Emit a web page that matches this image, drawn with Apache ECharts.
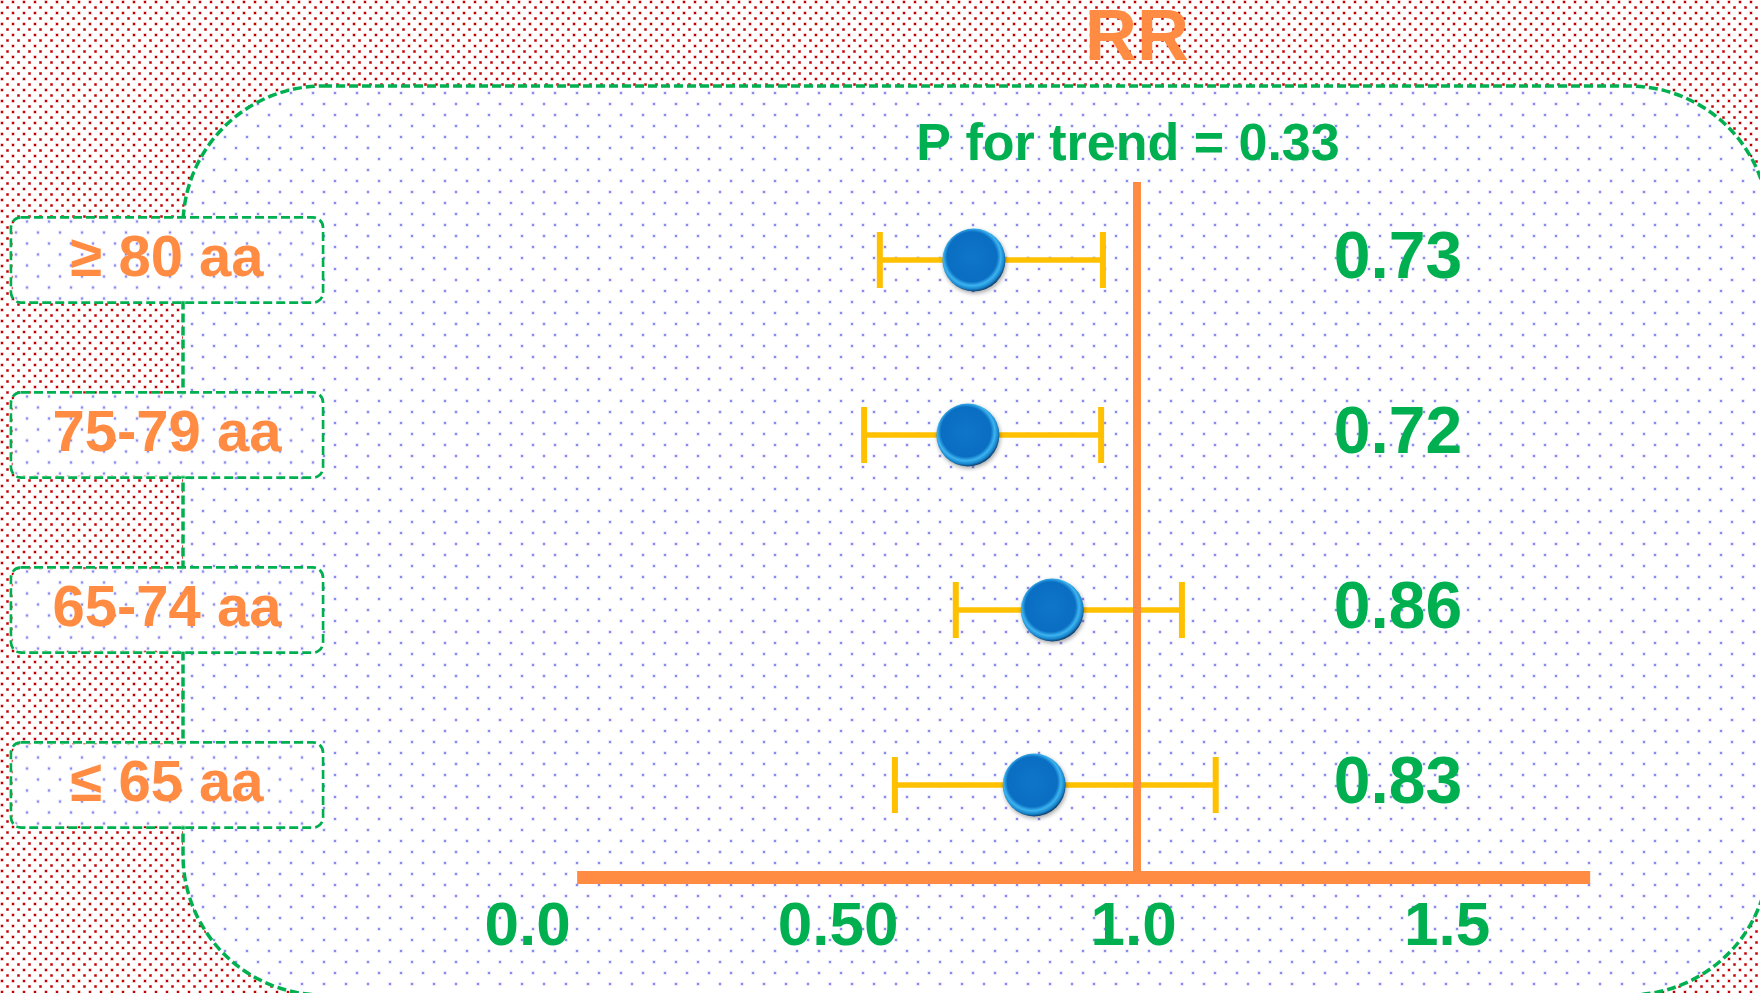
<!DOCTYPE html>
<html>
<head>
<meta charset="utf-8">
<script src="https://cdn.jsdelivr.net/npm/echarts@6/dist/echarts.min.js"></script>
<style>
  html, body { margin: 0; padding: 0; background: #fff; }
  #chart { width: 1760px; height: 993px; }
</style>
</head>
<body>
<div id="chart"></div>
<script>
// Data
const rowLabels = ['≥ 80 aa', '75-79 aa', '65-74 aa', '≤ 65 aa'];
const rr = [0.73, 0.72, 0.86, 0.83];
const ciLow = [0.574, 0.548, 0.700, 0.599];
const ciHigh = [0.944, 0.941, 1.075, 1.131];
const xTicks = [0, 0.5, 1.0, 1.5];
const xTickLabels = ['0.0', '0.50', '1.0', '1.5'];
const refValue = 1.0;
const axisTitle = 'RR';
const trendText = 'P for trend = 0.33';
// the drawn axis bar does not start at 0
const axisBarFrom = 0.072;
const axisBarTo = 1.752;

const FONT = '"Liberation Sans", Arial, sans-serif';
const ORANGE = '#ff8c42';
const GREEN = '#00b050';
const GOLD = '#ffc000';
const BLUE_DOT = '#8a8af0';
const BLUE_HALO = 'rgba(140,140,240,0.45)';

// scale of the plot: x pixel of value 0 and pixels per unit
const X0 = 533.7, PXU = 603;

//Dotted fill patterns (red on the page, blue on the panel).
function drawDot(ctx, x, y, color, halo) {
    ctx.fillStyle = halo;
    ctx.fillRect(x - 0.5, y - 0.5, 3, 3);
    ctx.fillStyle = color;
    ctx.fillRect(x, y, 2, 2);
}
function dots(w, h, color, halo, pts) {
    let c = document.createElement('canvas');
    c.width = w; c.height = h;
    let ctx = c.getContext('2d');
    ctx.fillStyle = '#ffffff';
    ctx.fillRect(0, 0, w, h);
    pts.forEach(p => drawDot(ctx, p[0], p[1], color, halo));
    return c;
}
const redTile = dots(11, 11, '#c00000', 'rgba(200,0,0,0.45)', [[1, 1], [6.5, 6.5]]);
const blueTile = dots(22, 22, BLUE_DOT, BLUE_HALO, [[4, 4], [15, 15]]);

// background image for the label boxes, lined up with the panel dots,
// with a clear rim so the dashed border is not covered
function boxImage(bx, by, w, h, r, inset) {
    let c = document.createElement('canvas');
    c.width = w; c.height = h;
    let ctx = c.getContext('2d');
    ctx.beginPath();
    ctx.roundRect(inset, inset, w - 2 * inset, h - 2 * inset, r);
    ctx.clip();
    ctx.fillStyle = '#ffffff';
    ctx.fillRect(0, 0, w, h);
    for (let y = -2; y < h; y++) {
        for (let x = -2; x < w; x++) {
            let gx = ((x + bx) % 22 + 22) % 22, gy = ((y + by) % 22 + 22) % 22;
            if ((gx === 4 && gy === 4) || (gx === 15 && gy === 15)) {
                drawDot(ctx, x, y, BLUE_DOT, BLUE_HALO);
            }
        }
    }
    return c;
}
const boxBg = boxImage(11, 221, 312, 85, 9, 1.6);

const tickShift = [-6, 3, -3, 9];
let rich = {};
tickShift.forEach((s, i) => {
    rich['t' + i] = {
        color: GREEN, fontSize: 62, fontWeight: 'bold', fontFamily: FONT,
        padding: s < 0 ? [0, -2 * s, 0, 0] : [0, 0, 0, 2 * s]
    };
});

function renderErrorBar(params, api) {
    let lo = api.coord([api.value(0), api.value(2)]);
    let hi = api.coord([api.value(1), api.value(2)]);
    let h = 28;
    return {
        type: 'group',
        children: [
            { type: 'line', shape: { x1: lo[0], y1: lo[1], x2: hi[0], y2: hi[1] }, style: { stroke: GOLD, lineWidth: 5.5 } },
            { type: 'line', shape: { x1: lo[0], y1: lo[1] - h, x2: lo[0], y2: lo[1] + h }, style: { stroke: GOLD, lineWidth: 6 } },
            { type: 'line', shape: { x1: hi[0], y1: hi[1] - h, x2: hi[0], y2: hi[1] + h }, style: { stroke: GOLD, lineWidth: 6 } }
        ]
    };
}

const chart = echarts.init(document.getElementById('chart'));

const option = {
    backgroundColor: '#ffffff',
    animation: false,
    title: [
        {
            text: axisTitle, left: 1137, top: 4, padding: 0, textAlign: 'center',
            textStyle: { color: ORANGE, fontSize: 72, fontWeight: 'bold', fontFamily: FONT }
        },
        {
            text: trendText, left: 1128, top: 120, padding: 0, textAlign: 'center',
            textStyle: { color: GREEN, fontSize: 52, fontWeight: 'bold', fontFamily: FONT }
        }
    ],
    graphic: [
        {
            type: 'rect', z: -100, silent: true,
            shape: { x: 0, y: 0, width: 1760, height: 993 },
            style: { fill: { type: 'pattern', image: redTile, repeat: 'repeat' } }
        },
        {
            type: 'rect', z: -90, silent: true,
            shape: { x: 183, y: 86, width: 1586, height: 909, r: 140 },
            style: {
                fill: { type: 'pattern', image: blueTile, repeat: 'repeat' },
                stroke: GREEN, lineWidth: 3.5, lineDash: [9, 4]
            }
        }
    ],
    grid: [
        { left: X0, width: 2 * PXU, top: 172.5, height: 700 },
        { left: X0 + axisBarFrom * PXU, width: (axisBarTo - axisBarFrom) * PXU, top: 182, bottom: 116 }
    ],
    xAxis: [
        {
            type: 'value', gridIndex: 0, min: 0, max: 2, interval: 0.5,
            axisLine: { show: false }, axisTick: { show: false }, splitLine: { show: false },
            axisLabel: {
                margin: 24,
                formatter: function (v) {
                    let i = xTicks.indexOf(v);
                    return i < 0 ? '' : '{t' + i + '|' + xTickLabels[i] + '}';
                },
                rich: rich
            }
        },
        {
            type: 'value', gridIndex: 1, min: axisBarFrom, max: axisBarTo,
            axisLine: { show: true, lineStyle: { color: ORANGE, width: 13, cap: 'butt' } },
            axisTick: { show: false }, splitLine: { show: false }, axisLabel: { show: false }
        }
    ],
    yAxis: [
        {
            type: 'category', gridIndex: 0, data: rowLabels, inverse: true,
            axisLine: { show: false }, axisTick: { show: false }, splitLine: { show: false },
            axisLabel: {
                margin: X0 - 167, align: 'center', width: 292, lineHeight: 75,
                padding: [5, 10], color: ORANGE, fontSize: 58, fontWeight: 'bold', fontFamily: FONT,
                borderColor: GREEN, borderWidth: 2.8, borderType: [9, 4], borderRadius: 10,
                backgroundColor: { image: boxBg }
            }
        },
        {
            type: 'category', gridIndex: 0, data: rr.map(v => v.toFixed(2)), inverse: true,
            position: 'right', offset: 1398 - (X0 + 2 * PXU),
            axisLine: { show: false }, axisTick: { show: false }, splitLine: { show: false },
            axisLabel: {
                margin: 0, align: 'center', color: GREEN, fontSize: 66, fontWeight: 'bold', fontFamily: FONT
            }
        },
        {
            type: 'value', gridIndex: 1, min: 0, max: 1, show: false
        }
    ],
    series: [
        {
            name: 'CI',
            type: 'custom',
            xAxisIndex: 0, yAxisIndex: 0, z: 2,
            renderItem: renderErrorBar,
            encode: { x: [0, 1], y: 2 },
            data: ciLow.map((lo, i) => [lo, ciHigh[i], i])
        },
        {
            name: 'ref',
            type: 'line',
            xAxisIndex: 1, yAxisIndex: 2, z: 3,
            data: [],
            markLine: {
                silent: true, symbol: 'none', label: { show: false },
                lineStyle: { color: ORANGE, width: 8, type: 'solid', cap: 'butt' },
                data: [{ xAxis: refValue }]
            }
        },
        {
            name: 'RR',
            type: 'scatter',
            xAxisIndex: 0, yAxisIndex: 0, z: 4,
            symbolSize: 63,
            itemStyle: {
                opacity: 1,
                color: new echarts.graphic.RadialGradient(0.47, 0.45, 0.55, [
                    { offset: 0, color: '#0e76ca' },
                    { offset: 0.72, color: '#0a6ec2' },
                    { offset: 0.83, color: '#3cb4f0' },
                    { offset: 0.93, color: '#1884cc' },
                    { offset: 1, color: '#0a3f6e' }
                ]),
                shadowColor: 'rgba(0,0,0,0.35)', shadowBlur: 4, shadowOffsetX: 1, shadowOffsetY: 2
            },
            data: rr.map((v, i) => [v, i])
        }
    ]
};

chart.setOption(option);
</script>
</body>
</html>
